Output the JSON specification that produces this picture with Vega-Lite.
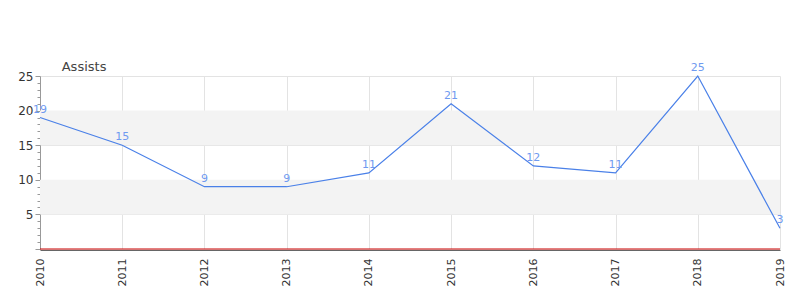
{
  "$schema": "https://vega.github.io/schema/vega-lite/v6.json",
  "width": 740,
  "height": 173,
  "autosize": "none",
  "padding": {"left": 40, "top": 76, "right": 20, "bottom": 51},
  "background": "white",
  "config": {"view": {"stroke": null}, "font": "DejaVu Sans"},
  "title": {"text": "Assists", "anchor": "start", "dx": 44, "dy": 16, "offset": 4, "fontSize": 13, "fontWeight": "normal", "color": "#444", "font": "DejaVu Sans"},
  "datasets": {
    "assists": [
      {"year": 2010, "assists": 19},
      {"year": 2011, "assists": 15},
      {"year": 2012, "assists": 9},
      {"year": 2013, "assists": 9},
      {"year": 2014, "assists": 11},
      {"year": 2015, "assists": 21},
      {"year": 2016, "assists": 12},
      {"year": 2017, "assists": 11},
      {"year": 2018, "assists": 25},
      {"year": 2019, "assists": 3}
    ],
    "bands": [
      {"lo": 5, "hi": 10},
      {"lo": 15, "hi": 20}
    ],
    "baseline": [
      {"value": 0}
    ]
  },
  "resolve": {"axis": {"y": "independent"}},
  "layer": [
    {
      "data": {"name": "bands"},
      "mark": {"type": "rect", "color": "#f3f3f3"},
      "encoding": {
        "y": {"field": "lo", "type": "quantitative", "scale": {"domain": [0, 25], "nice": false},
          "axis": {"orient": "left", "values": [1,2,3,4,6,7,8,9,11,12,13,14,16,17,18,19,21,22,23,24], "labels": false, "grid": false, "domain": false, "tickColor": "#999", "tickSize": 3, "title": null}},
        "y2": {"field": "hi"}
      }
    },
    {
      "data": {"name": "assists"},
      "mark": {"type": "line", "color": "#4a80e8", "strokeWidth": 1.2},
      "encoding": {
        "x": {"field": "year", "type": "quantitative", "scale": {"domain": [2010, 2019], "nice": false},
          "axis": {"values": [2010,2011,2012,2013,2014,2015,2016,2017,2018,2019], "format": "d", "labelAngle": -90, "labelAlign": "right", "labelBaseline": "middle", "labelFontSize": 11, "labelColor": "#333", "labelPadding": 8, "offset": 1, "domainColor": "#666", "domainWidth": 1.2, "ticks": false, "gridColor": "#e3e3e3", "title": null, "labelFont": "DejaVu Sans"}},
        "y": {"field": "assists", "type": "quantitative", "scale": {"domain": [0, 25], "nice": false},
          "axis": {"orient": "left", "values": [0, 5, 10, 15, 20, 25], "labelExpr": "datum.value > 0 ? datum.label : ''", "labelFontSize": 12, "labelColor": "#333", "labelPadding": 2, "domainColor": "#999", "tickColor": "#999", "tickSize": 5, "grid": true, "gridColor": "#e3e3e3", "title": null, "labelFont": "DejaVu Sans"}}
      }
    },
    {
      "data": {"name": "assists"},
      "mark": {"type": "text", "color": "#6f9af0", "fontSize": 11, "dy": -3, "baseline": "bottom", "font": "DejaVu Sans"},
      "encoding": {
        "x": {"field": "year", "type": "quantitative"},
        "y": {"field": "assists", "type": "quantitative", "axis": null},
        "text": {"field": "assists", "type": "quantitative"}
      }
    },
    {
      "data": {"name": "baseline"},
      "mark": {"type": "rule", "color": "#cc0000", "strokeWidth": 1.2},
      "encoding": {"y": {"field": "value", "type": "quantitative", "axis": null}}
    }
  ]
}
